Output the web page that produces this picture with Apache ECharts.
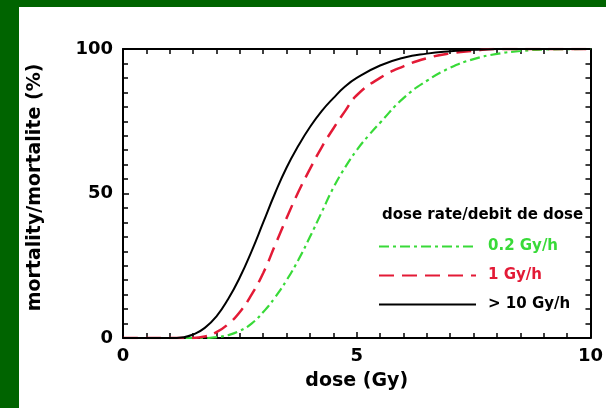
<!DOCTYPE html>
<html>
<head>
<meta charset="utf-8">
<script src="https://cdn.jsdelivr.net/npm/echarts@6/dist/echarts.min.js"></script>
<style>html,body{margin:0;padding:0;background:#006400;}#c{width:606px;height:408px;}</style>
</head>
<body>
<div id="c"></div>
<script>
var xTicks = [0, 5, 10];
var yTicks = [0, 50, 100];
var seriesNames = ['0.2 Gy/h', '1 Gy/h', '> 10 Gy/h'];
var legendTitle = 'dose rate/debit de dose';

var doseGreen = [0, 1.75, 2.0, 2.25, 2.5, 2.75, 3.0, 3.25, 3.5, 3.75, 4.0, 4.25, 4.5, 4.75, 5.0, 5.25, 5.5, 6.0, 6.5, 7.0, 7.5, 8.0, 8.5, 9.0, 10];
var mortGreen = [0, 0, 0.3, 1, 2.5, 5, 9, 14, 20, 27, 35, 43.5, 52, 59, 65, 70, 74.5, 83, 89, 93.5, 96.5, 98.3, 99.3, 99.8, 100];

var doseRed = [0, 1.5, 1.75, 2.0, 2.25, 2.5, 2.75, 3.0, 3.25, 3.5, 3.75, 4.0, 4.25, 4.5, 4.75, 5.0, 5.5, 6.0, 6.5, 7.0, 7.5, 8.0, 10];
var mortRed = [0, 0, 0.5, 2, 4.8, 9, 15, 22.5, 32, 41.5, 50.5, 58.5, 66, 72.5, 78.5, 84, 90, 94, 96.8, 98.5, 99.4, 100, 100];

var doseBlack = [0, 1.0, 1.3, 1.5, 1.75, 2.0, 2.25, 2.5, 2.75, 3.0, 3.25, 3.5, 3.75, 4.0, 4.25, 4.5, 4.75, 5.0, 5.5, 6.0, 6.5, 7.0, 7.5, 8.0, 10];
var mortBlack = [0, 0, 0.3, 1.2, 3.5, 7.5, 13.5, 21, 30, 40, 50, 59, 66.5, 73, 78.5, 83, 87, 90, 94.3, 97, 98.4, 99.2, 99.7, 100, 100];

function pairs(xs, ys) { return xs.map(function (x, i) { return [x, ys[i]]; }); }

var GREEN = '#38da38', RED = '#e31a36', BLACK = '#000000';
var FONT = 'DejaVu Sans';

var chart = echarts.init(document.getElementById('c'), null, {renderer: 'canvas'});

function common() {
  return {
    type: 'value',
    axisLine: {show: true, onZero: false, lineStyle: {color: '#000', width: 2}},
    axisTick: {show: true, inside: true, length: 6, lineStyle: {color: '#000', width: 1.5}},
    minorTick: {show: true, splitNumber: 10, length: 5, lineStyle: {color: '#000', width: 1.5}},
    splitLine: {show: false},
    minorSplitLine: {show: false}
  };
}

function xAx(pos, labels) {
  return Object.assign(common(), {
    position: pos, min: xTicks[0], max: xTicks[xTicks.length - 1], interval: xTicks[1] - xTicks[0],
    name: labels ? 'dose (Gy)' : '', nameLocation: 'middle', nameGap: 34,
    nameTextStyle: {fontFamily: FONT, fontWeight: 'bold', fontSize: 19, color: '#000'},
    axisLabel: {show: labels, margin: 9, fontFamily: FONT, fontWeight: 'bold', fontSize: 18, color: '#000'}
  });
}
function yAx(pos, labels) {
  return Object.assign(common(), {
    position: pos, min: yTicks[0], max: yTicks[yTicks.length - 1], interval: yTicks[1] - yTicks[0],
    name: labels ? 'mortality/mortalite (%)' : '', nameLocation: 'middle', nameGap: 78,
    nameTextStyle: {fontFamily: FONT, fontWeight: 'bold', fontSize: 19, color: '#000', padding: [0, 0, 0, 12]},
    axisLabel: {show: labels, margin: 10, fontFamily: FONT, fontWeight: 'bold', fontSize: 18, color: '#000'}
  });
}

var option = {
  backgroundColor: '#006400',
  animation: false,
  graphic: [
    {type: 'rect', left: 19, top: 7, z: -10, shape: {width: 587, height: 401}, style: {fill: '#ffffff'}},
    {type: 'text', left: 382, top: 208, z: 10,
     style: {text: legendTitle, fill: '#000', font: 'bold 15px "DejaVu Sans"'}}
  ],
  grid: {left: 123, top: 49, right: 15, bottom: 70},
  xAxis: [xAx('bottom', true), xAx('top', false)],
  yAxis: [yAx('left', true), yAx('right', false)],
  legend: {
    orient: 'vertical', left: 378, top: 239, padding: 0,
    itemWidth: 97, itemHeight: 14, itemGap: 14,
    lineStyle: {type: 'inherit'},
    itemStyle: {opacity: 0},
    textStyle: {fontFamily: FONT, fontWeight: 'bold', fontSize: 15, padding: [0, 0, 0, 7]},
    data: [
      {name: seriesNames[0], textStyle: {color: GREEN}},
      {name: seriesNames[1], textStyle: {color: RED}},
      {name: seriesNames[2], textStyle: {color: BLACK}}
    ]
  },
  series: [
    {name: seriesNames[0], type: 'line', smooth: 0.5, showSymbol: false, symbol: 'none',
     color: GREEN, lineStyle: {color: GREEN, width: 2.2, type: [10, 4, 3, 4]}, data: pairs(doseGreen, mortGreen)},
    {name: seriesNames[1], type: 'line', smooth: 0.5, showSymbol: false, symbol: 'none',
     color: RED, lineStyle: {color: RED, width: 2.5, type: [15, 8]}, data: pairs(doseRed, mortRed)},
    {name: seriesNames[2], type: 'line', smooth: 0.5, showSymbol: false, symbol: 'none',
     color: BLACK, lineStyle: {color: BLACK, width: 2}, data: pairs(doseBlack, mortBlack)}
  ]
};
chart.setOption(option);
</script>
</body>
</html>
